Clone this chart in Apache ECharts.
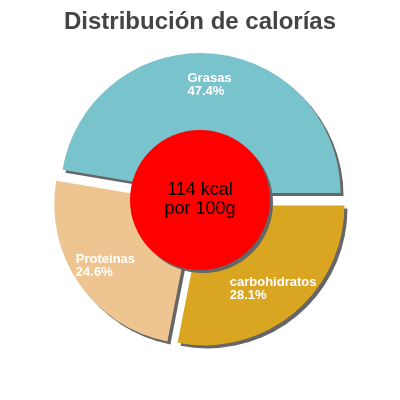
<!DOCTYPE html>
<html>
<head>
<meta charset="utf-8">
<script src="https://cdn.jsdelivr.net/npm/echarts@6/dist/echarts.min.js"></script>
<style>html,body{margin:0;padding:0;background:#fff;}#c{width:400px;height:400px;}</style>
</head>
<body>
<div id="c"></div>
<script>
const titleText = 'Distribución de calorías';
const categories = ['Grasas', 'Proteínas', 'carbohidratos'];
const values = [47.4, 24.6, 28.1];
const energyLines = ['114 kcal', 'por 100g'];

const palette = ['#79c4cc', '#eec591', '#daa520'];
const chart = echarts.init(document.getElementById('c'), null, {renderer: 'canvas'});

const sliceData = categories.map((name, i) => ({name: name, value: values[i], selected: true}));

const common = {
  type: 'pie',
  center: ['50%', '50%'],
  startAngle: 0,
  clockwise: false,
  selectedMode: 'multiple',
  selectedOffset: 7,
  animation: false,
  silent: true,
  emphasis: {disabled: true},
  labelLine: {show: false}
};

chart.setOption({
  animation: false,
  color: palette,
  title: {
    text: titleText,
    left: 'center',
    top: 5,
    textStyle: {fontFamily: 'Liberation Sans, Arial, sans-serif', fontSize: 24, fontWeight: 'bold', color: '#444444'}
  },
  series: [
    Object.assign({}, common, {
      name: 'slices',
      radius: [0, 140],
      data: sliceData,
      itemStyle: {shadowColor: '#666666', shadowBlur: 0, shadowOffsetX: 3, shadowOffsetY: 3},
      label: {show: false}
    }),
    Object.assign({}, common, {
      name: 'labels',
      radius: [70, 140],
      data: sliceData,
      itemStyle: {color: 'rgba(0,0,0,0)'},
      label: {
        show: true,
        position: 'inside',
        formatter: p => '{n|' + p.name + '}\n{p|' + p.value + '%}',
        rich: {
          n: {align: 'left', color: '#fff', fontSize: 13, fontWeight: 'bold', fontFamily: 'Liberation Sans, Arial, sans-serif', lineHeight: 13},
          p: {align: 'left', color: '#fff', fontSize: 13, fontWeight: 'bold', fontFamily: 'Liberation Sans, Arial, sans-serif', lineHeight: 13}
        }
      }
    }),
    Object.assign({}, common, {
      name: 'energy',
      radius: [0, 70],
      selectedMode: false,
      data: [{name: energyLines.join('\n'), value: 1}],
      itemStyle: {color: '#ff0000', shadowColor: '#666666', shadowBlur: 0, shadowOffsetX: 3, shadowOffsetY: 3},
      label: {
        show: true,
        position: 'center',
        color: '#000',
        fontSize: 18,
        lineHeight: 19,
        fontFamily: 'Liberation Sans, Arial, sans-serif'
      }
    })
  ]
});
</script>
</body>
</html>
